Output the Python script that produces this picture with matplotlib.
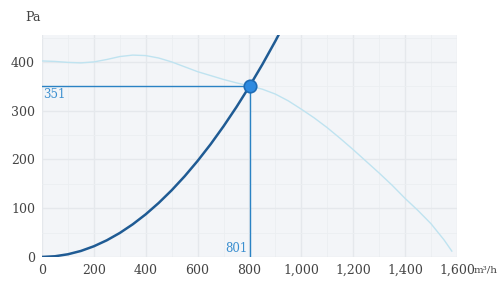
import matplotlib
matplotlib.use("Agg")
import matplotlib.pyplot as plt
from matplotlib.ticker import FuncFormatter, MultipleLocator

# fan curve (m3/h -> Pa)
fan_flow = [0, 50, 100, 150, 200, 250, 300, 350, 400, 450, 500, 550, 600, 650,
            700, 750, 800, 850, 900, 950, 1000, 1050, 1100, 1150, 1200, 1250,
            1300, 1350, 1400, 1450, 1500, 1550, 1580]
fan_pa = [402, 401, 399, 398, 400, 405, 411, 414, 413, 408, 400, 390, 380, 372,
          364, 357, 351, 344, 334, 320, 303, 285, 265, 243, 220, 196,
          172, 147, 120, 95, 68, 35, 12]

# system curve
sys_flow = [0, 50, 100, 150, 200, 250, 300, 350, 400, 450, 500, 550, 600, 650,
            700, 750, 800, 850, 900, 950]
sys_pa = [0, 1.4, 5.5, 12.3, 21.9, 34.2, 49.2, 67.0, 87.5, 110.8, 136.8, 165.5,
          197.0, 231.1, 268.1, 307.7, 350.1, 395.2, 443.1, 493.7]

op_flow = 801
op_pa = 351

x_ticks = [0, 200, 400, 600, 800, 1000, 1200, 1400, 1600]
y_ticks = [0, 100, 200, 300, 400]

FONT = "DejaVu Serif"
TXT = "#444444"

fig = plt.figure(figsize=(5.0, 2.95), dpi=100)
ax = fig.add_axes([0.084, 0.129, 0.83, 0.752])
ax.set_facecolor("#f3f5f8")

ax.set_xlim(0, 1600)
ax.set_ylim(0, 455)
ax.xaxis.set_major_locator(MultipleLocator(200))
ax.xaxis.set_minor_locator(MultipleLocator(100))
ax.yaxis.set_major_locator(MultipleLocator(100))
ax.yaxis.set_minor_locator(MultipleLocator(50))
ax.grid(which="major", color="#e5e8ec", lw=1.0)
ax.grid(which="minor", color="#ebeef1", lw=0.6)
ax.set_axisbelow(True)
for s in ax.spines.values():
    s.set_visible(False)
ax.tick_params(which="both", length=0, colors=TXT, labelsize=9, pad=5)
ax.set_xticks(x_ticks)
ax.set_yticks(y_ticks)
ax.xaxis.set_major_formatter(FuncFormatter(lambda v, p: f"{int(v):,}"))
for lab in ax.get_xticklabels() + ax.get_yticklabels():
    lab.set_fontfamily(FONT)

ax.plot(fan_flow, fan_pa, color="#bfe3f0", lw=1.0, zorder=2)
ax.plot(sys_flow, sys_pa, color="#1f5b94", lw=1.8, zorder=3)

ax.plot([0, op_flow], [op_pa, op_pa], color="#2a82c4", lw=1.0, zorder=4)
ax.plot([op_flow, op_flow], [0, op_pa], color="#2a82c4", lw=1.0, zorder=4)
ax.plot([op_flow], [op_pa], marker="o", ms=9, mfc="#2d8ae0", mec="#1e6cb5",
        mew=1.2, zorder=5)

ax.text(3, op_pa - 4, str(op_pa), color="#3b8fd0", fontsize=8.5,
        family=FONT, ha="left", va="top")
ax.text(op_flow - 8, 3, str(op_flow), color="#3b8fd0", fontsize=8.5,
        family=FONT, ha="right", va="bottom")

fig.text(0.05, 0.94, "Pa", color=TXT, fontsize=9, family=FONT, ha="left", va="center")
fig.text(0.947, 0.085, "m³/h", color=TXT, fontsize=7.5, family=FONT, ha="left", va="center")

fig.savefig("out.png", dpi=100)
